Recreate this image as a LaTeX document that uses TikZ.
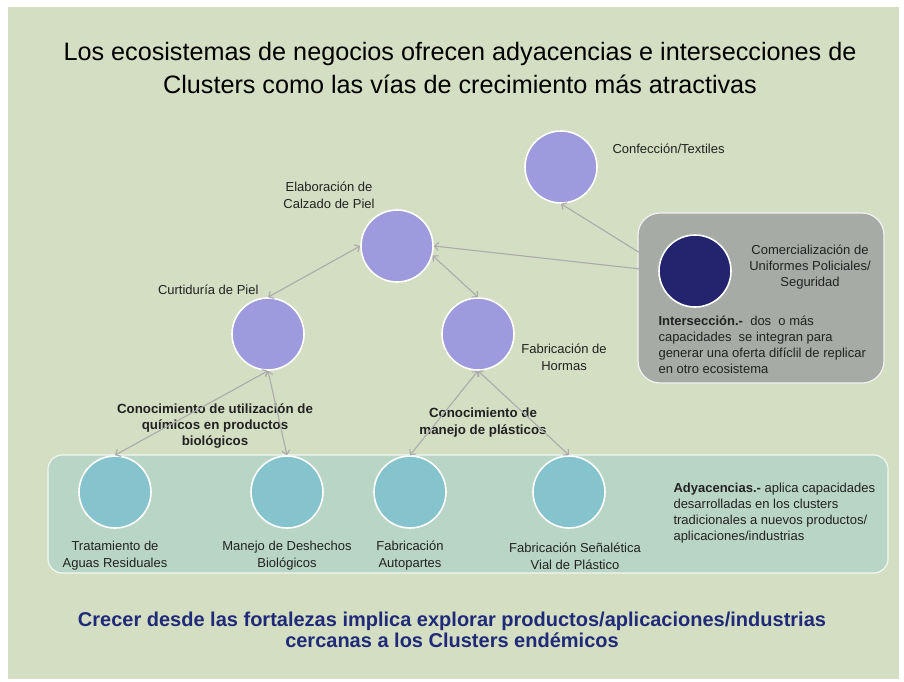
\documentclass[tikz,border=0pt]{standalone}
\usepackage{fontspec}
\setmainfont{Liberation Sans}
\usetikzlibrary{arrows.meta}
\definecolor{Sage}{HTML}{D4DEC3}
\definecolor{Lilac}{HTML}{9D9BDD}
\definecolor{Lagoon}{HTML}{86C4CD}
\definecolor{Navy}{HTML}{24236E}
\definecolor{Slate}{HTML}{A6ABA6}
\definecolor{Seafoam}{HTML}{B9D5C5}
\definecolor{Wire}{HTML}{ABABAB}
\definecolor{Ink}{HTML}{1F2A78}
\definecolor{Txt}{HTML}{222222}

\begin{document}
\begin{tikzpicture}[x=1pt,y=-1pt,
    dot/.style={circle,draw=white,line width=1.6pt,minimum size=72pt,inner sep=0pt},
    lbl/.style={align=center,text=Txt,font=\fontsize{13}{17}\selectfont},
    note/.style={align=left,text=Txt,font=\fontsize{13}{16}\selectfont},
    arr/.style={{Straight Barb[length=4pt,width=8pt]}-{Straight Barb[length=4pt,width=8pt]},line width=1.1pt,draw=Wire}
  ]
    \useasboundingbox (0,0) rectangle (904,682);
    \fill[white] (0,0) rectangle (904,682);
    \fill[Sage] (8,7) rectangle (899,679);
    % boxes
    \draw[draw=white!85!Slate,line width=1.2pt,fill=Slate,rounded corners=22pt] (638,213) rectangle (884,383);
    \draw[draw=white!80!Seafoam,line width=1.2pt,fill=Seafoam,rounded corners=14pt] (48,455) rectangle (888,573);
    % title
    \node[align=center,text=black,font=\fontsize{25.2}{33}\selectfont] (title) at (460,68) {Los ecosistemas de negocios ofrecen adyacencias e intersecciones de\\Clusters como las vías de crecimiento más atractivas};
    % clusters
    \node[dot,fill=Lilac] (conf) at (561,167) {};
    \node[dot,fill=Lilac] (calz) at (397,246) {};
    \node[dot,fill=Lilac] (curt) at (268,334) {};
    \node[dot,fill=Lilac] (horm) at (478,334) {};
    \node[dot,fill=Navy] (unif) at (695,271) {};
    \node[dot,fill=Lagoon] (agua) at (115,492) {};
    \node[dot,fill=Lagoon] (desh) at (287,492) {};
    \node[dot,fill=Lagoon] (auto) at (410,492) {};
    \node[dot,fill=Lagoon] (vial) at (569,492) {};
    % labels
    \node[lbl,anchor=west] (confl) at (609,149) {Confección/Textiles};
    \node[lbl] (calzl) at (329,195) {Elaboración de\\Calzado de Piel};
    \node[lbl,anchor=east] (curtl) at (262,290) {Curtiduría de Piel};
    \node[lbl] (horml) at (564,357) {Fabricación de\\Hormas};
    \node[lbl,font=\fontsize{13}{16}\selectfont] (unifl) at (810,267) {Comercialización de\\Uniformes Policiales/\\Seguridad};
    \node[note,anchor=west] (inter) at (655,345) {\textbf{Intersección.-}\ \ dos\ \ o más\\capacidades\ \ se integran para\\generar una oferta difíclil de replicar\\en otro ecosistema};
    \node[note,anchor=west] (adya) at (670,513) {\textbf{Adyacencias.-} aplica capacidades\\desarrolladas en los clusters\\tradicionales a nuevos productos/\\aplicaciones/industrias};
    \node[lbl,font=\bfseries\fontsize{13.3}{16}\selectfont] (quim) at (215,426) {Conocimiento de utilización de\\químicos en productos\\biológicos};
    \node[lbl,font=\bfseries\fontsize{13.3}{17}\selectfont] (plas) at (483,423) {Conocimiento de\\manejo de plásticos};
    \node[lbl] (agual) at (115,556) {Tratamiento de\\Aguas Residuales};
    \node[lbl] (deshl) at (287,556) {Manejo de Deshechos\\Biológicos};
    \node[lbl] (autol) at (410,556) {Fabricación\\Autopartes};
    \node[lbl] (viall) at (575,556) {Fabricación Señalética\\Vial de Plástico};
    % links
    \draw[arr] (curt.north) -- (calz.west);
    \draw[arr] (calz.-15) -- (horm.north);
    \draw[arr] (unif.180) -- (calz.east);
    \draw[arr] (unif.170) -- (conf.south);
    \draw[arr] (curt.south) -- (agua.north);
    \draw[arr] (curt.south) -- (desh.north);
    \draw[arr] (horm.south) -- (auto.north);
    \draw[arr] (horm.south) -- (vial.north);
    \node[align=center,text=Ink,font=\bfseries\fontsize{20}{21}\selectfont] (tag) at (452,630) {Crecer desde las fortalezas implica explorar productos/aplicaciones/industrias\\cercanas a los Clusters endémicos};
  \end{tikzpicture}
\end{document}
